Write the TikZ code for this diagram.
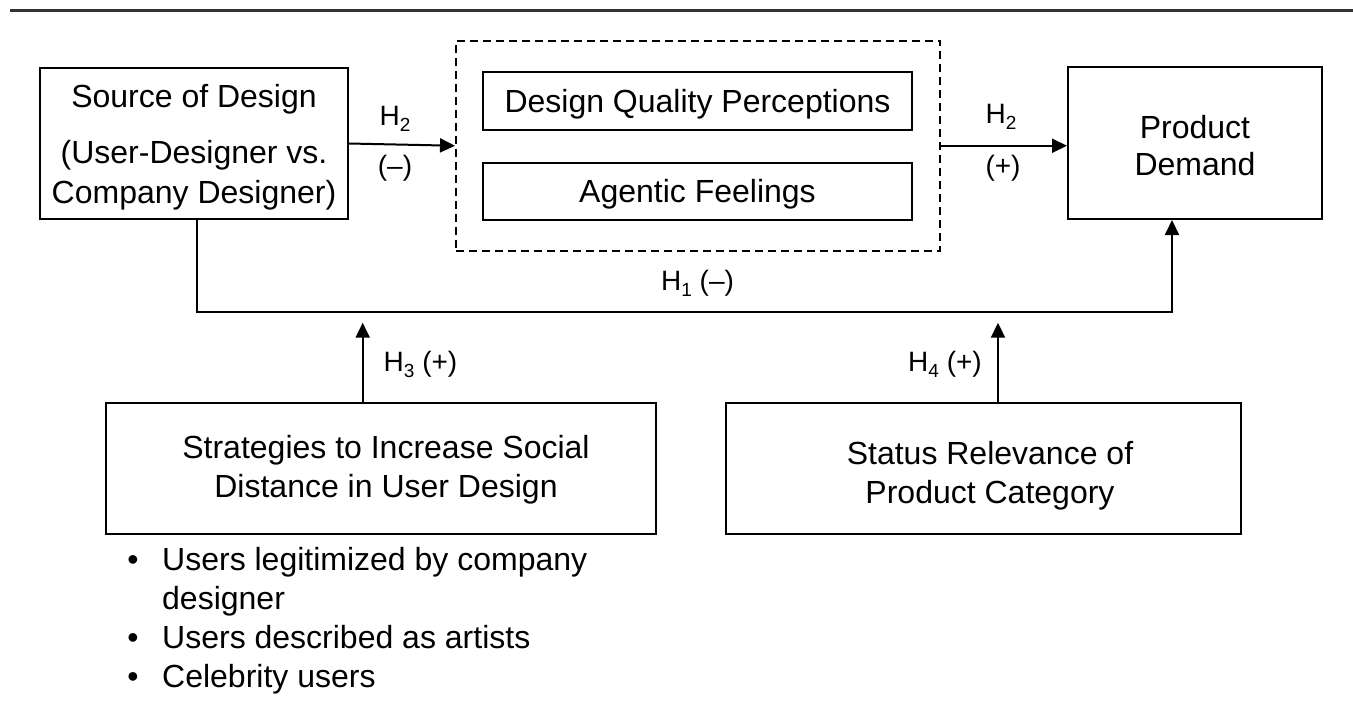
\documentclass[tikz,border=0pt]{standalone}
\usepackage{fontspec}
\setmainfont{Liberation Sans}
\usetikzlibrary{arrows.meta}
\newcommand{\hsub}[1]{H\raisebox{-6pt}{\fontsize{19}{19}\selectfont #1}}
\definecolor{rulegray}{RGB}{51,51,51}
\begin{document}
\begin{tikzpicture}[x=1pt,y=-1pt,
  box/.style={draw=black, line width=2pt, inner sep=0pt, align=center,
    font=\fontsize{32}{39}\selectfont},
  dashbox/.style={draw=black, line width=2pt, dash pattern=on 8pt off 5pt, inner sep=0pt},
  lbl/.style={inner sep=0pt, anchor=base, font=\fontsize{28}{32}\selectfont},
  txt/.style={inner sep=0pt, anchor=base west, font=\fontsize{32}{39}\selectfont},
  dotstyle/.style={inner sep=0pt, anchor=base, font=\fontsize{32}{39}\selectfont},
  arr/.style={line width=2pt, -{Triangle[length=15pt,width=14pt]}},
  conn/.style={line width=2pt}]
\useasboundingbox (0,0) rectangle (1353,715);

% top rule
\coordinate (rl) at (10,10);
\coordinate (rr) at (1353,10);
\draw[line width=3pt, rulegray] (rl) -- (rr);

% boxes
\node[box, minimum width=308pt, minimum height=151pt, text height=126pt, text depth=7pt,
  font=\fontsize{32}{40}\selectfont] (src) at (194,143.5)
  {Source of Design\\[16pt](User-Designer vs.\\Company Designer)};
\node[dashbox, minimum width=484pt, minimum height=210.5pt] (med) at (698,145.75) {};
\node[box, minimum width=429pt, minimum height=58pt, text height=23pt, text depth=0pt] (dq) at (697.5,100.5) {Design Quality Perceptions};
\node[box, minimum width=429pt, minimum height=57.5pt, text height=23pt, text depth=0pt] (af) at (697.5,191.3) {Agentic Feelings};
\node[box, minimum width=254pt, minimum height=152pt, text height=71pt, text depth=7pt,
  font=\fontsize{32}{37}\selectfont] (pd) at (1195,143)
  {Product\\Demand};
\node[box, minimum width=550pt, minimum height=131.6pt, text height=64pt, text depth=7pt] (strat) at (381,468.5)
  {\hspace*{10pt}Strategies to Increase Social\\\hspace*{10pt}Distance in User Design};
\node[box, minimum width=515pt, minimum height=131.6pt, text height=76pt, text depth=7pt] (stat) at (983.5,468.5)
  {\hspace*{13pt}Status Relevance of\\\hspace*{13pt}Product Category};

% connectors
\coordinate (h1l) at (197,312);
\coordinate (h1r) at (1172,312);
\coordinate (h3t) at (362.7,322.7);
\coordinate (h4t) at (998,322.7);
\draw[arr] (src.east) -- (med.west);
\draw[arr] (med.east) -- (med.east -| pd.west);
\draw[arr] (src.south -| h1l) -- (h1l) -- (h1r) -- (h1r |- pd.south);
\draw[arr] (strat.north -| h3t) -- (h3t);
\draw[arr] (stat.north -| h4t) -- (h4t);

% labels
\node[lbl] (l2a) at (395,125) {\hsub{2}};
\node[lbl] (l2b) at (395,175) {(–)};
\node[lbl] (l2c) at (1001,123) {\hsub{2}};
\node[lbl] (l2d) at (1003,175) {(+)};
\node[lbl] (l1) at (697.5,290) {\hsub{1} (–)};
\node[lbl] (l3) at (420.5,371.7) {\hsub{3} (+)};
\node[lbl] (l4) at (945,371.7) {\hsub{4} (+)};

% bullet list
\node[dotstyle] (d1) at (133,570) {•};
\node[dotstyle] (d2) at (133,648) {•};
\node[dotstyle] (d3) at (133,687) {•};
\node[txt] (b1) at (162,570) {Users legitimized by company};
\node[txt] (b1c) at (162,609) {designer};
\node[txt] (b2) at (162,648) {Users described as artists};
\node[txt] (b3) at (162,687) {Celebrity users};
\end{tikzpicture}
\end{document}
